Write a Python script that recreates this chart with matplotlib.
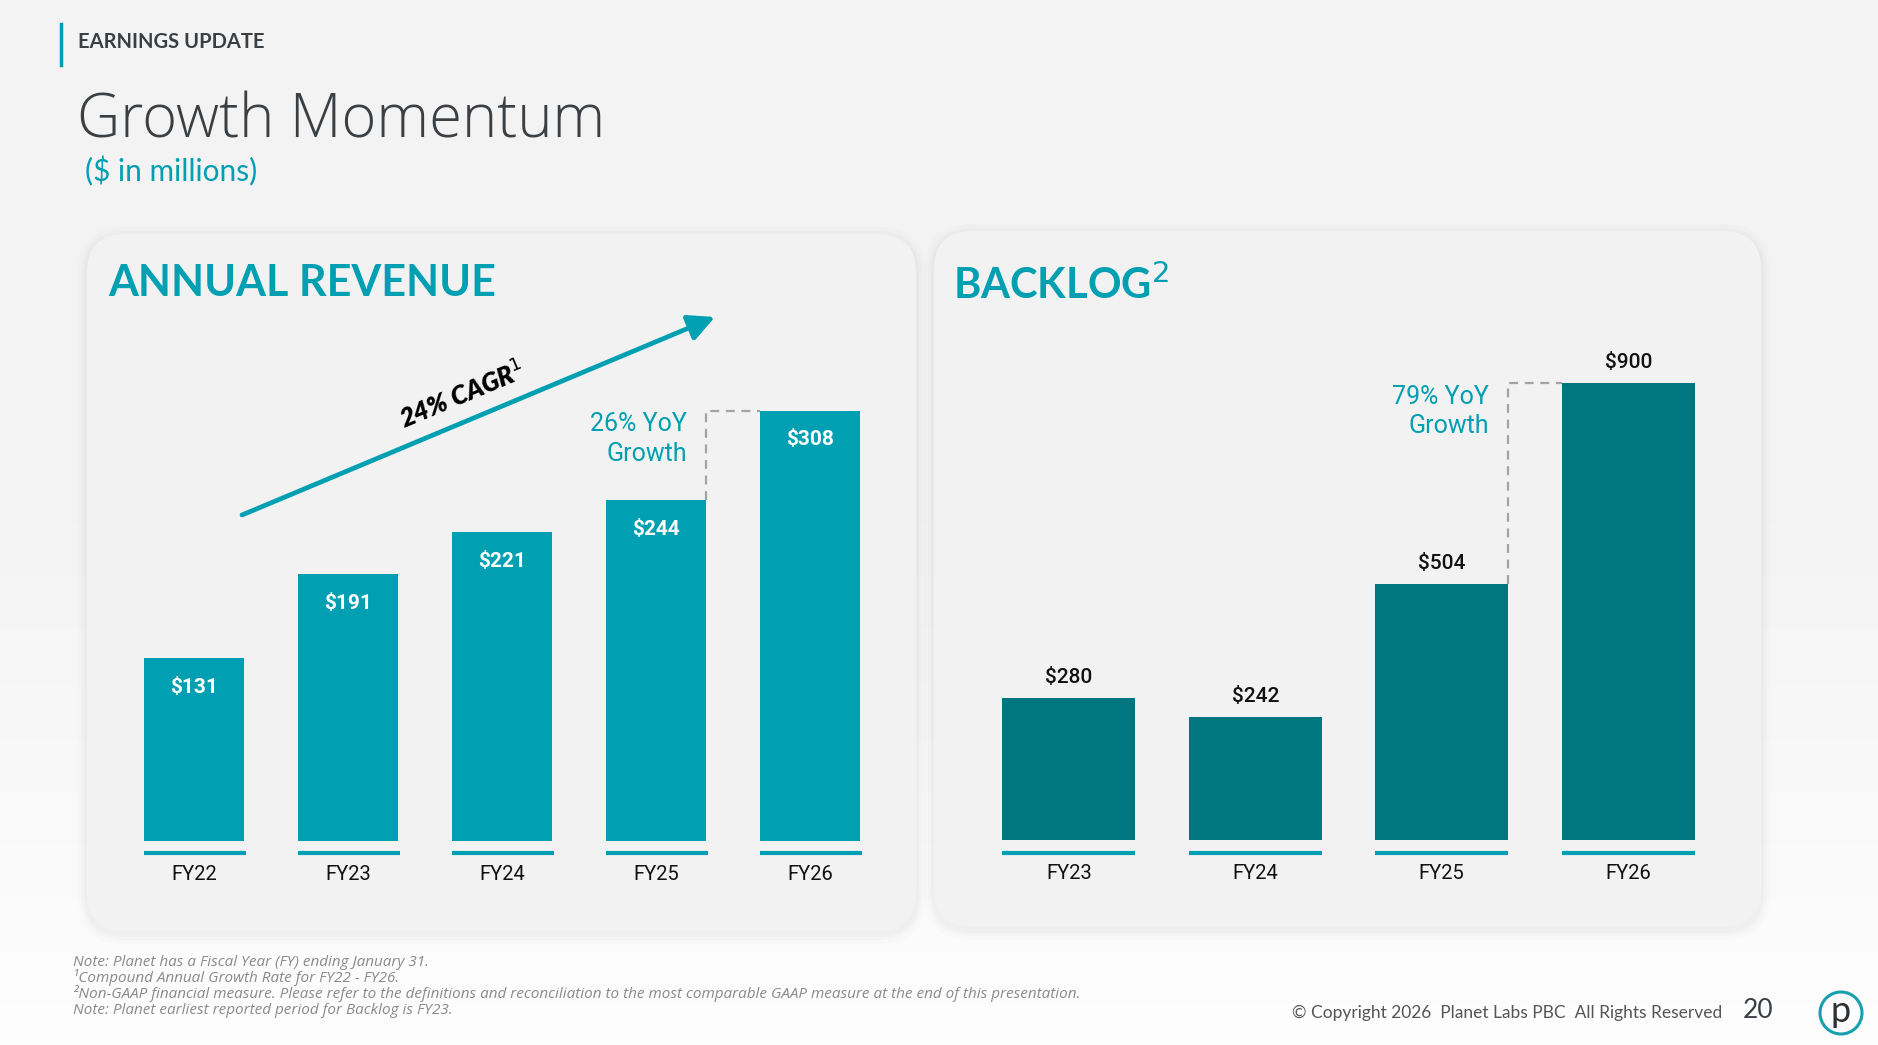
import numpy as np
import matplotlib.pyplot as plt
from matplotlib.patches import FancyBboxPatch, Circle

# dane
rev_years = ["FY22", "FY23", "FY24", "FY25", "FY26"]
rev_values = [131, 191, 221, 244, 308]
rev_labels = ["$131", "$191", "$221", "$244", "$308"]

back_years = ["FY23", "FY24", "FY25", "FY26"]
back_values = [280, 242, 504, 900]
back_labels = ["$280", "$242", "$504", "$900"]

rev_yoy = "26% YoY\nGrowth"
back_yoy = "79% YoY\nGrowth"
cagr_text = "24% CAGR$^{1}$"

footnotes = [
    "Note: Planet has a Fiscal Year (FY) ending January 31.",
    "\u00b9Compound Annual Growth Rate for FY22 - FY26.",
    "\u00b2Non-GAAP financial measure. Please refer to the definitions and reconciliation "
    "to the most comparable GAAP measure at the end of this presentation.",
    "Note: Planet earliest reported period for Backlog is FY23.",
]

TEAL = "#009fb2"
DARK_TEAL = "#007681"
LINE_TEAL = "#00a0b4"
TXT = "#3a3f44"

W, H = 1878, 1045
fig = plt.figure(figsize=(W / 100, H / 100), dpi=100)

# tlo w pikselach
bg = fig.add_axes([0, 0, 1, 1])
bg.set_xlim(0, W)
bg.set_ylim(H, 0)
bg.axis("off")
grad = np.linspace(0, 1, 256)
grad = np.clip((grad - 0.45) / 0.55, 0, 1)
col = 0.953 + (0.995 - 0.953) * grad
img = np.dstack([col, col, col]).reshape(256, 1, 3)
bg.imshow(img, extent=[0, W, H, 0], aspect="auto", zorder=0)


def panel(x0, y0, x1, y1):
    for k, a in [(10, 0.01), (6, 0.015), (3, 0.02)]:
        bg.add_patch(FancyBboxPatch((x0 - k, y0 - k + 3), x1 - x0 + 2 * k, y1 - y0 + 2 * k,
                                    boxstyle="round,pad=0,rounding_size=%d" % (38 + k),
                                    fc="black", ec="none", alpha=a, zorder=1))
    bg.add_patch(FancyBboxPatch((x0, y0), x1 - x0, y1 - y0,
                                boxstyle="round,pad=0,rounding_size=38",
                                fc="#f2f2f2", ec="none", zorder=2))


panel(87, 234, 916, 931)
panel(934, 231, 1761, 927)

# naglowki
bg.plot([61, 61], [24, 65], color=TEAL, lw=2.5, zorder=3)
bg.text(78, 42, "EARNINGS UPDATE", fontsize=14.5, fontweight="bold", family="Lato",
        color=TXT, va="center", zorder=3)
bg.text(77, 122, "Growth Momentum", fontsize=43, fontweight="light", family="Open Sans",
        color=TXT, va="center", zorder=3)
bg.text(85, 171, "($ in millions)", fontsize=21.5, family="Lato", color=TEAL,
        va="center", zorder=3)
bg.text(108, 283, "ANNUAL REVENUE", fontsize=31, fontweight="bold", family="Lato",
        color=TEAL, va="center", zorder=3)
bg.text(953, 285, "BACKLOG$^{2}$", fontsize=30, fontweight="bold", family="Lato",
        color=TEAL, va="center", zorder=3)

# strzalka CAGR
bg.annotate("", xy=(715, 317), xytext=(242, 515), zorder=3,
            arrowprops=dict(arrowstyle="-|>,head_length=1.6,head_width=0.8",
                            color=TEAL, lw=3.4, shrinkA=0, shrinkB=0))
ang = np.degrees(np.arctan2(515 - 317, 715 - 242))
bg.text(462, 394, cagr_text, fontsize=18.5, fontweight="heavy", fontstyle="italic",
        family="Lato", color="black", rotation=ang, rotation_mode="anchor",
        ha="center", va="center", zorder=3)

# przypisy
for i, line in enumerate(footnotes):
    bg.text(73, 962 + i * 16, line, fontsize=11, fontstyle="italic", family="Open Sans",
            color="#8a8a8a", va="center", zorder=3)

bg.text(1722, 1013, "\u00a9 Copyright 2026  Planet Labs PBC  All Rights Reserved", fontsize=12.5,
        family="Lato", color="#555555", ha="right", va="center", zorder=3)
bg.text(1758, 1011, "20", fontsize=19, family="Lato", color=TXT,
        ha="center", va="center", zorder=3)
bg.add_patch(Circle((1841, 1013), 21, fc="none", ec="#16a0ae", lw=2.2, zorder=3))
bg.text(1841, 1011, "p", fontsize=26, family="Lato", color="#2d3236",
        ha="center", va="center", zorder=4)


def bar_axes(left, bottom, width, height):
    ax = fig.add_axes([left / W, (H - bottom) / H, width / W, height / H])
    ax.patch.set_alpha(0)
    for s in ax.spines.values():
        s.set_visible(False)
    ax.set_yticks([])
    ax.tick_params(axis="x", length=0, pad=17, labelsize=14.5, labelcolor="#111111")
    return ax


# przychody
ax1 = bar_axes(117, 841, 770, 461)
x1 = np.arange(len(rev_years))
bw1 = 0.65
ax1.bar(x1, rev_values, width=bw1, color=TEAL, zorder=2)
ax1.set_xlim(-0.5, len(rev_years) - 0.5)
ax1.set_ylim(0, 330)
ax1.set_xticks(x1, rev_years, family="Roboto")
for xi, v, lab in zip(x1, rev_values, rev_labels):
    ax1.annotate(lab, (xi, v), xytext=(0, -21), textcoords="offset points",
                 ha="center", va="center", color="white", fontsize=15,
                 fontweight="bold", family="Roboto")
    ax1.plot([xi - bw1 / 2, xi + bw1 / 2 + 0.01], [-8.4, -8.4], color=LINE_TEAL,
             lw=3, solid_capstyle="butt", clip_on=False)
xd = x1[3] + bw1 / 2
ax1.plot([xd, xd, x1[4] - bw1 / 2], [rev_values[3], rev_values[4], rev_values[4]],
         color="#a3a3a3", lw=1.6, ls=(0, (4, 3)), zorder=1)
ax1.annotate(rev_yoy, (xd, rev_values[4]), xytext=(-14, -1), textcoords="offset points",
             ha="right", va="top", color=TEAL, fontsize=18, family="Roboto",
             linespacing=1.3, multialignment="right")

# backlog
ax2 = bar_axes(975.5, 840, 746, 472)
x2 = np.arange(len(back_years))
bw2 = 0.715
ax2.bar(x2, back_values, width=bw2, color=DARK_TEAL, zorder=2)
ax2.set_xlim(-0.5, len(back_years) - 0.5)
ax2.set_ylim(0, 930)
ax2.set_xticks(x2, back_years, family="Roboto")
for xi, v, lab in zip(x2, back_values, back_labels):
    ax2.annotate(lab, (xi, v), xytext=(0, 15), textcoords="offset points",
                 ha="center", va="center", color="#111111", fontsize=15,
                 fontweight="medium", family="Roboto")
    ax2.plot([xi - bw2 / 2, xi + bw2 / 2], [-25.6, -25.6], color=LINE_TEAL,
             lw=3, solid_capstyle="butt", clip_on=False)
xd2 = x2[2] + bw2 / 2
ax2.plot([xd2, xd2, x2[3] - bw2 / 2], [back_values[2], back_values[3], back_values[3]],
         color="#a3a3a3", lw=1.6, ls=(0, (4, 3)), zorder=1)
ax2.annotate(back_yoy, (xd2, back_values[3]), xytext=(-14, -1), textcoords="offset points",
             ha="right", va="top", color=TEAL, fontsize=18, family="Roboto",
             linespacing=1.3, multialignment="right")

fig.savefig("out.png", dpi=100)
